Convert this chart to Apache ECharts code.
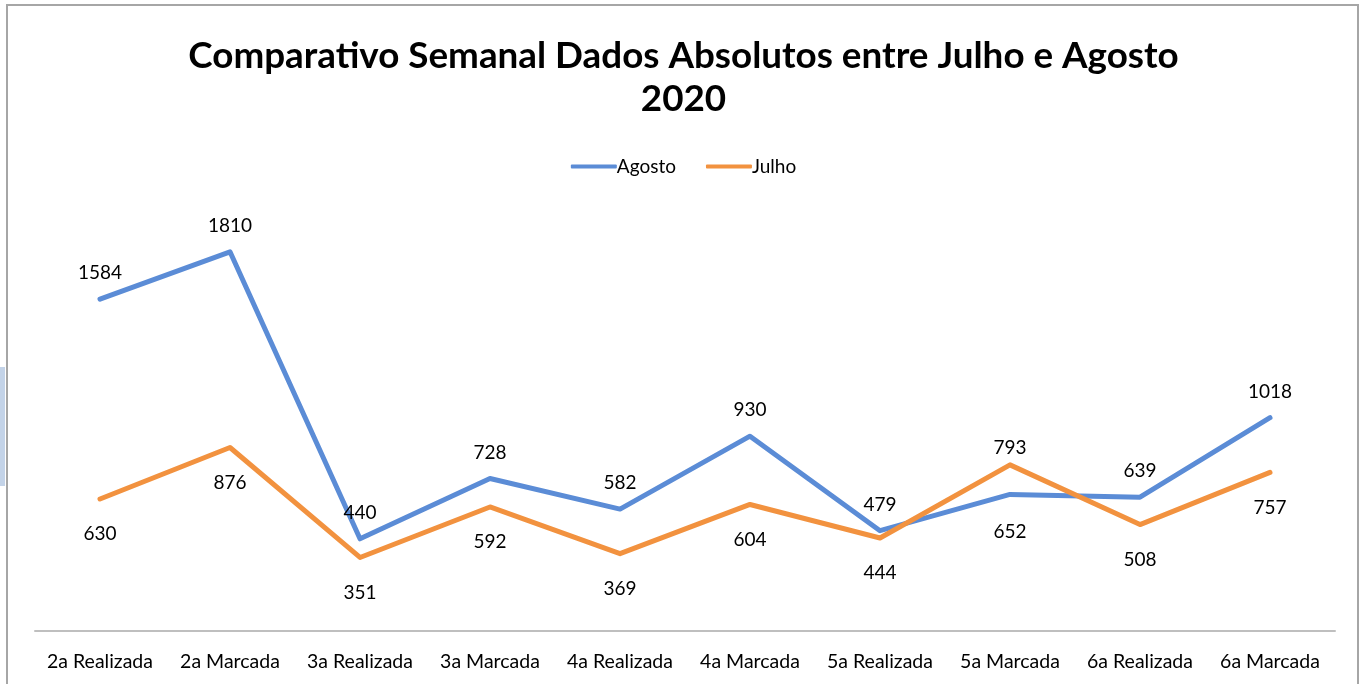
<!DOCTYPE html>
<html>
<head>
<meta charset="utf-8">
<script src="https://cdn.jsdelivr.net/npm/echarts@6/dist/echarts.min.js"></script>
<style>
  html, body { margin: 0; padding: 0; background: #fff; }
  #frame { position: absolute; left: 6px; top: 4px; width: 1349px; height: 700px;
    border: 2px solid #a6a6a6; border-bottom: none; }
  #tab { position: absolute; left: 0; top: 367px; width: 5px; height: 119px; background: #c3d3e8; }
  #chart { position: absolute; left: 0; top: 0; width: 1367px; height: 684px; }
</style>
</head>
<body>
<div id="frame"></div>
<div id="tab"></div>
<div id="chart"></div>
<script>
// categorias (semanas)
const categories = ['2a Realizada', '2a Marcada', '3a Realizada', '3a Marcada', '4a Realizada',
  '4a Marcada', '5a Realizada', '5a Marcada', '6a Realizada', '6a Marcada']
const agosto = [1584, 1810, 440, 728, 582, 930, 479, 652, 639, 1018]
const julho = [630, 876, 351, 592, 369, 604, 444, 793, 508, 757]
// posicao dos rotulos de cada ponto
const agostoLabelPos = ['top', 'top', 'top', 'top', 'top', 'top', 'top', 'bottom', 'top', 'top']
const julhoLabelPos = ['bottom', 'bottom', 'bottom', 'bottom', 'bottom', 'bottom', 'bottom', 'top', 'bottom', 'bottom']

const font = 'Lato, "Open Sans", sans-serif'
const blue = '#5b8cd6'
const orange = '#f2923f'

function buildData (values, positions, dist) {
  return values.map((v, i) => ({
    value: v,
    label: { position: positions[i], distance: dist[positions[i]] }
  }))
}

const chart = echarts.init(document.getElementById('chart'))
chart.setOption({
  animation: false,
  textStyle: { fontFamily: font },
  title: {
    text: 'Comparativo Semanal Dados Absolutos entre Julho e Agosto\n2020',
    left: 'center',
    top: 30,
    textStyle: { fontSize: 36.8, fontWeight: 'bold', color: '#000', lineHeight: 43, fontFamily: font }
  },
  legend: {
    top: 152,
    left: 'center',
    itemWidth: 46,
    itemHeight: 4,
    itemGap: 30,
    icon: 'roundRect',
    textStyle: { fontSize: 19, color: '#000', padding: [0, 0, 0, -5] },
    data: ['Agosto', 'Julho']
  },
  grid: { left: 35, right: 32, top: 212, bottom: 53 },
  xAxis: {
    type: 'category',
    data: categories,
    boundaryGap: true,
    axisLine: { lineStyle: { color: '#bfbfbf', width: 2 } },
    axisTick: { show: false },
    axisLabel: { fontSize: 19.5, color: '#000', margin: 21, interval: 0, hideOverlap: false }
  },
  yAxis: {
    type: 'value',
    min: 0,
    max: 2000,
    show: false,
    splitLine: { show: false }
  },
  series: [
    {
      name: 'Agosto',
      type: 'line',
      data: buildData(agosto, agostoLabelPos, { top: 16, bottom: 27 }),
      color: blue,
      symbol: 'circle',
      symbolSize: 1,
      lineStyle: { width: 5, color: blue, cap: 'round', join: 'round' },
      label: { show: true, fontSize: 19, color: '#000' }
    },
    {
      name: 'Julho',
      type: 'line',
      data: buildData(julho, julhoLabelPos, { top: 7, bottom: 25 }),
      color: orange,
      symbol: 'circle',
      symbolSize: 1,
      lineStyle: { width: 5, color: orange, cap: 'round', join: 'round' },
      label: { show: true, fontSize: 19, color: '#000' }
    }
  ]
})
</script>
</body>
</html>
